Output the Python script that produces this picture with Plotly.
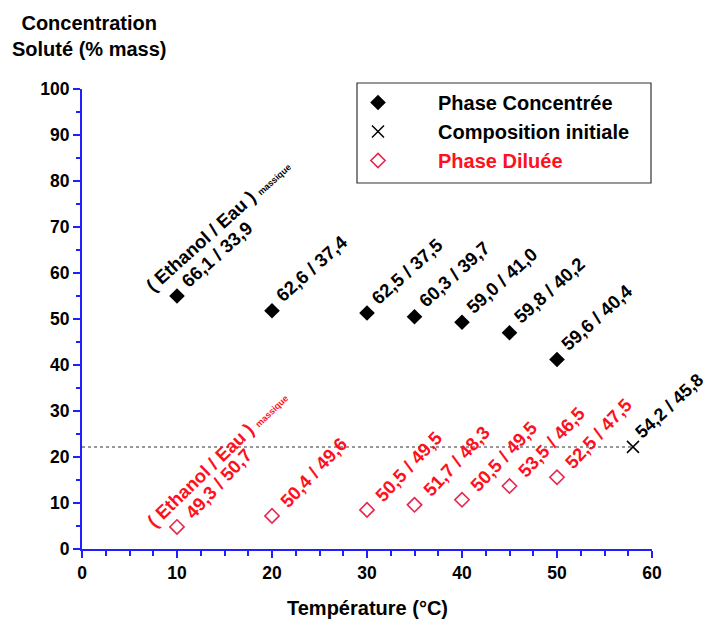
import math
import plotly.graph_objects as go

# ---------------- data ----------------
temps = [10, 20, 30, 35, 40, 45, 50]
conc_values = [55.0, 51.8, 51.3, 50.5, 49.3, 47.0, 41.2]
conc_labels = ["66,1 / 33,9", "62,6 / 37,4", "62,5 / 37,5", "60,3 / 39,7",
               "59,0 / 41,0", "59,8 / 40,2", "59,6 / 40,4"]
dil_values = [4.8, 7.2, 8.5, 9.6, 10.7, 13.7, 15.6]
dil_labels = ["49,3 / 50,7", "50,4 / 49,6", "50,5 / 49,5", "51,7 / 48,3",
              "50,5 / 49,5", "53,5 / 46,5", "52,5 / 47,5"]
init_T = [58]
init_C = [22.2]
init_labels = ["54,2 / 45,8"]
header_text = "( Ethanol / Eau ) <span style='font-size:9px'>massique</span>"

x_ticks = [0, 10, 20, 30, 40, 50, 60]
y_ticks = [0, 10, 20, 30, 40, 50, 60, 70, 80, 90, 100]

# ---------------- style ----------------
FONT = "Liberation Sans, Arial, sans-serif"
FS_LAB = 18.5
FS_TICK = 17.5
FS_TITLE = 20
BLUE = "#1f1fff"
RED = "#ff1020"
RED_MK = "#e6284f"
W, H = 709, 623
L, R, T, B = 82, 57, 89, 74
PW, PH = W - L - R, H - T - B


def px2paper(px, py):
    return (px - L) / PW, (H - B - py) / PH


def shift(angle_deg, length, sx, sy, h=6.0):
    """Center offset of a rotated label that starts at (sx, sy) px from the mark."""
    a = math.radians(angle_deg)
    cx = sx + length / 2 * math.cos(a) - h * math.sin(a)
    cy = sy - length / 2 * math.sin(a) - h * math.cos(a)
    return cx, -cy


fig = go.Figure()

# dotted guide line at initial composition
fig.add_trace(go.Scatter(
    x=[0, init_T[0]], y=[init_C[0], init_C[0]], mode="lines",
    line=dict(color="#777777", width=1.5, dash="dot"),
    showlegend=False, hoverinfo="skip"))

fig.add_trace(go.Scatter(
    x=temps, y=conc_values, mode="markers", name="Phase Concentrée",
    marker=dict(symbol="diamond", size=12, color="black")))
fig.add_trace(go.Scatter(
    x=init_T, y=init_C, mode="markers", name="Composition initiale",
    marker=dict(symbol="x-thin-open", size=12, color="black",
                line=dict(color="black", width=1.5))))
fig.add_trace(go.Scatter(
    x=temps, y=dil_values, mode="markers",
    name=f"<span style='color:{RED}'>Phase Diluée</span>",
    marker=dict(symbol="diamond-open", size=11, color=RED_MK,
                line=dict(color=RED_MK, width=1.6))))

anns = []
lab_font_k = dict(family=FONT, size=FS_LAB, color="black", weight="bold")
lab_font_r = dict(family=FONT, size=FS_LAB, color=RED, weight="bold")

for t, c, txt in zip(temps, conc_values, conc_labels):
    dx, dy = shift(42, 88, 11, -8)
    anns.append(dict(x=t, y=c, text=txt, showarrow=False, textangle=-42,
                     xanchor="center", yanchor="middle", xshift=dx, yshift=dy,
                     font=lab_font_k))
for t, c, txt in zip(temps, dil_values, dil_labels):
    dx, dy = shift(47, 88, 16, -7)
    anns.append(dict(x=t, y=c, text=txt, showarrow=False, textangle=-47,
                     xanchor="center", yanchor="middle", xshift=dx, yshift=dy,
                     font=lab_font_r))
for t, c, txt in zip(init_T, init_C, init_labels):
    dx, dy = shift(43, 86, 9, -7)
    anns.append(dict(x=t, y=c, text=txt, showarrow=False, textangle=-43,
                     xanchor="center", yanchor="middle", xshift=dx, yshift=dy,
                     font=dict(family=FONT, size=18, color="black", weight="bold")))

# headers "( Ethanol / Eau ) massique"
dx, dy = shift(42, 197, -28, 0)
anns.append(dict(x=temps[0], y=conc_values[0], text=header_text, showarrow=False,
                 textangle=-42, xanchor="center", yanchor="middle",
                 xshift=dx, yshift=dy, font=lab_font_k))
dx, dy = shift(44, 197, -27, 5)
anns.append(dict(x=temps[0], y=dil_values[0], text=header_text, showarrow=False,
                 textangle=-44, xanchor="center", yanchor="middle",
                 xshift=dx, yshift=dy, font=lab_font_r))

title_font = dict(family=FONT, size=FS_TITLE, color="black", weight="bold")

# y-axis title (horizontal, top-left)
px, py = px2paper(89, 36)
anns.append(dict(xref="paper", yref="paper", x=px, y=py,
                 text="Concentration<br>Soluté (% mass)", showarrow=False,
                 xanchor="center", yanchor="middle", align="center",
                 font=title_font))
# x-axis title
px, py = px2paper(367, 608)
anns.append(dict(xref="paper", yref="paper", x=px, y=py,
                 text="Température (°C)", showarrow=False,
                 xanchor="center", yanchor="middle", font=title_font))

# legend frame
x0, y0 = px2paper(357, 83)
x1, y1 = px2paper(651, 183)
shapes = [dict(type="rect", xref="paper", yref="paper", x0=x0, y0=y0, x1=x1, y1=y1,
               line=dict(color="#333333", width=1.2), fillcolor="rgba(0,0,0,0)")]

lx, ly = px2paper(318, 83)

axis_common = dict(
    showline=True, linecolor=BLUE, linewidth=2, showgrid=False, zeroline=False,
    ticks="outside", tickcolor=BLUE, tickwidth=2, ticklen=7,
    tickfont=dict(family=FONT, size=FS_TICK, color="black", weight="bold"),
    mirror=False)

fig.update_layout(
    width=W, height=H,
    margin=dict(l=L, r=R, t=T, b=B, autoexpand=False),
    paper_bgcolor="white", plot_bgcolor="white",
    font=dict(family=FONT, size=FS_TICK, color="black"),
    xaxis=dict(range=[0, 60], tickvals=x_ticks,
               minor=dict(dtick=2.5, ticks="outside", ticklen=5, tickcolor=BLUE, tickwidth=1.5),
               **axis_common),
    yaxis=dict(range=[0, 100], tickvals=y_ticks,
               minor=dict(dtick=5, ticks="outside", ticklen=4, tickcolor=BLUE, tickwidth=1.5),
               **axis_common),
    legend=dict(x=lx, y=ly, xanchor="left", yanchor="top", bgcolor="rgba(0,0,0,0)",
                borderwidth=0, itemwidth=110, tracegroupgap=0,
                font=dict(family=FONT, size=FS_TITLE, color="black", weight="bold")),
    annotations=anns, shapes=shapes, showlegend=True,
)

fig.write_html("out.html", config={"displayModeBar": False},
               post_script="document.body.style.margin='0';")
